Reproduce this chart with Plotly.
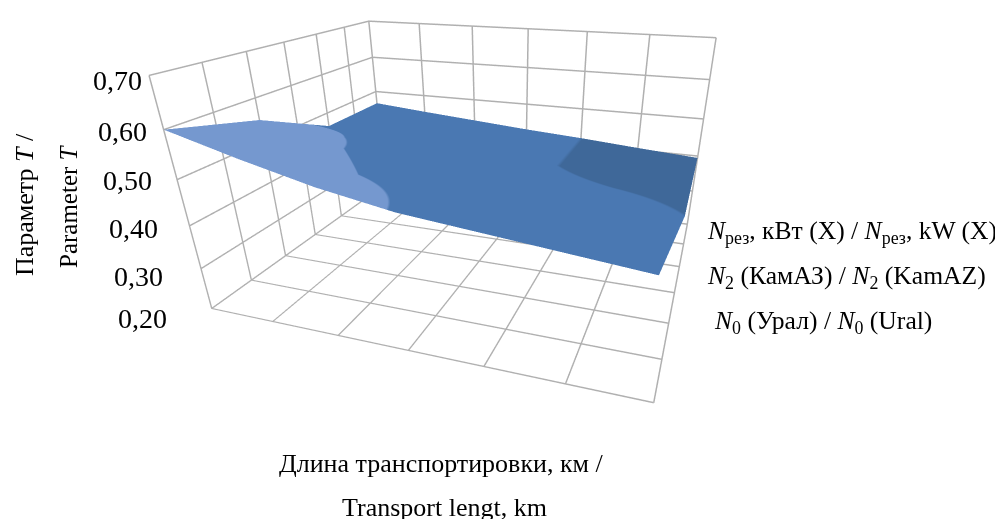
import plotly.graph_objects as go
W,H=995,511
OFF=8
x_idx=[0,1,2,3,4,5,6]
y_idx=[0,2,4,6]
x_front=[0,1,2,3,4,5,5.87]
x_grid=[x_front,x_idx,x_idx,x_idx]
y_grid=[[v]*len(x_idx) for v in y_idx]
z_vals=[[.600,.560,.524,.497,.482,.467,.454],
        [.550,.520,.476,.460,.450,.449,.448],
        [.465,.460,.450,.438,.425,.422,.420],
        [.465,.452,.440,.428,.418,.406,.395]]
c_vals=[[.80,.68,.572,.491,.46,.46,.46],
        [.65,.53,.44,.45,.47,.46,.42],
        [.44,.44,.45,.46,.42,.38,.38],
        [.45,.45,.45,.46,.42,.38,.38]]
z_ticks=[.2,.3,.4,.5,.6,.7]
z_text=["0,20","0,30","0,40","0,50","0,60","0,70"]
tick_px=[(116,318),(112,276),(107,229),(101,181),(96,131),(91,80)]
lo,hi=.3,.9
def nz(v): return (v-lo)/(hi-lo)
bands=[[0,"#3f6899"],[nz(.42),"#3f6899"],[nz(.42),"#4a78b2"],[nz(.5),"#4a78b2"],[nz(.5),"#7598cf"],[1,"#7598cf"]]
fig=go.Figure(go.Surface(x=x_grid,y=y_grid,z=z_vals,surfacecolor=c_vals,cmin=lo,cmax=hi,colorscale=bands,showscale=False,
    lighting=dict(ambient=1,diffuse=0,specular=0,roughness=1,fresnel=0),hoverinfo="skip"))
grid=dict(showbackground=False,gridcolor="#b0b0b0",gridwidth=3,zeroline=False,showline=False,showspikes=False,title=dict(text=""),ticks="",showticklabels=False)
fig.update_layout(width=W,height=H,margin=dict(l=0,r=0,t=0,b=0),paper_bgcolor="white",showlegend=False,
  font=dict(family="Liberation Serif",color="black"),
  scene=dict(domain=dict(x=[0,1],y=[0,1]),aspectmode="manual",aspectratio=dict(x=1,y=0.8237,z=0.5224),
    camera=dict(eye=dict(x=0.5221,y=-1.3284,z=0.5052),center=dict(x=0.2405,y=-0.4958,z=0.0282),up=dict(x=0,y=0,z=1),projection=dict(type="perspective")),
    xaxis=dict(range=[0,6],tickvals=x_idx,**grid),
    yaxis=dict(range=[0,6],tickvals=list(range(7)),**grid),
    zaxis=dict(range=[.2,.7],tickvals=z_ticks,**grid)))
def note(text,px,py,size,xa="left",angle=0):
    fig.add_annotation(text=text,x=(px-OFF)/W,y=1-(py-OFF)/H,xref="paper",yref="paper",showarrow=False,
        font=dict(size=size,family="Liberation Serif",color="black"),xanchor=xa,yanchor="middle",textangle=angle,align="left")
for t,(px,py) in zip(z_text,tick_px): note(t,px,py,28)
note("Параметр <i>T</i> /",25,205,26,"center",-90)
note("Parameter <i>T</i>",68,206,25,"center",-90)
note("Длина транспортировки, км /",441,463,26,"center")
note("Transport lengt, km",444,507,26,"center")
note("<i>N</i><sub>рез</sub>, кВт (X) / <i>N</i><sub>рез</sub>, kW (X)",705,232,25.6)
note("<i>N</i><sub>2</sub> (КамАЗ) / <i>N</i><sub>2</sub> (KamAZ)",705,277,25.6)
note("<i>N</i><sub>0</sub> (Урал) / <i>N</i><sub>0</sub> (Ural)",712,322,25.6)
fig.write_html("out.html")
